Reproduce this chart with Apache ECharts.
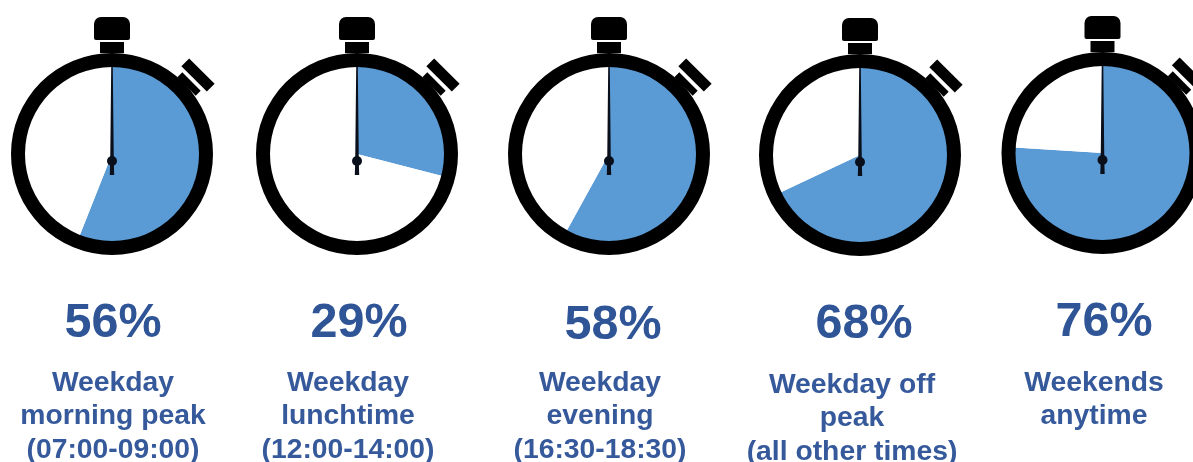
<!DOCTYPE html>
<html><head><meta charset="utf-8">
<style>html,body{margin:0;padding:0;background:#fff}#c{width:1193px;height:462px}</style>
<script src="https://cdn.jsdelivr.net/npm/echarts@6/dist/echarts.min.js"></script>
</head><body><div id="c"></div>
<script>
var percents = [56, 29, 58, 68, 76];
var captions = [
  ['Weekday', 'morning peak', '(07:00-09:00)'],
  ['Weekday', 'lunchtime', '(12:00-14:00)'],
  ['Weekday', 'evening', '(16:30-18:30)'],
  ['Weekday off', 'peak', '(all other times)'],
  ['Weekends', 'anytime']
];
var watchX = [112, 357, 609, 860, 1102.5];
var watchY = [154, 154, 154, 155, 153];
var pctX = [113, 359, 613, 864, 1104];
var pctY = [324, 324, 326, 325, 323];
var capX = [113, 348, 600, 852, 1094];
var capY = [383, 383, 383, 385, 383];

var BLUE = '#5B9BD5', INK = '#2F5597', INNER = 87, OUTER = 101;
var series = [], graphic = [];

percents.forEach(function (p, i) {
  var cx = watchX[i], cy = watchY[i];
  series.push({
    type: 'pie', silent: true, animation: false, z: 2,
    center: [cx, cy], radius: [0, INNER + 1], startAngle: 90, clockwise: true,
    label: {show: false}, labelLine: {show: false},
    data: [
      {value: p, itemStyle: {color: BLUE}},
      {value: 100 - p, itemStyle: {color: '#fff'}}
    ]
  });
  series.push({
    type: 'pie', silent: true, animation: false, z: 3,
    center: [cx, cy], radius: [INNER, OUTER], startAngle: 90,
    label: {show: false}, labelLine: {show: false},
    itemStyle: {color: '#000'},
    data: [{value: 1}]
  });
  // crown and stem
  graphic.push({type: 'rect', z: 10, shape: {x: cx - 18, y: cy - 137, width: 36, height: 23, r: [7, 7, 2, 2]}, style: {fill: '#000'}});
  graphic.push({type: 'rect', z: 10, shape: {x: cx - 12, y: cy - 112, width: 24, height: 11}, style: {fill: '#000'}});
  // side button
  graphic.push({type: 'rect', z: 10, x: cx + 86, y: cy - 79, rotation: -Math.PI / 4,
    shape: {x: -18, y: -5.5, width: 36, height: 11}, style: {fill: '#000'}});
  graphic.push({type: 'rect', z: 10, x: cx + 77, y: cy - 70, rotation: -Math.PI / 4,
    shape: {x: -13, y: -3.5, width: 26, height: 7}, style: {fill: '#000'}});
  // hand
  var hy = cy + 7;
  graphic.push({type: 'polygon', z: 11, shape: {points: [[cx - 0.8, cy - 87], [cx + 0.8, cy - 87], [cx + 1.8, hy], [cx + 2.2, hy + 14], [cx - 2.2, hy + 14], [cx - 1.8, hy]]}, style: {fill: '#0a0f1c'}});
  graphic.push({type: 'circle', z: 11, shape: {cx: cx, cy: hy, r: 5}, style: {fill: '#0a0f1c'}});
  // percent
  graphic.push({type: 'text', z: 12, x: pctX[i], y: pctY[i], style: {
    text: p + '%', fill: INK, align: 'center', verticalAlign: 'middle',
    font: 'bold 48.5px "Liberation Sans", Arial, sans-serif'}});
  // caption lines
  captions[i].forEach(function (line, k) {
    graphic.push({type: 'text', z: 12, x: capX[i], y: capY[i] + k * 33.5, style: {
      text: line, fill: '#35599A', align: 'center', verticalAlign: 'middle',
      font: 'bold 28.3px "Liberation Sans", Arial, sans-serif'}});
  });
});

var chart = echarts.init(document.getElementById('c'), null, {renderer: 'canvas'});
chart.setOption({animation: false, backgroundColor: '#fff', series: series, graphic: graphic});
</script></body></html>
